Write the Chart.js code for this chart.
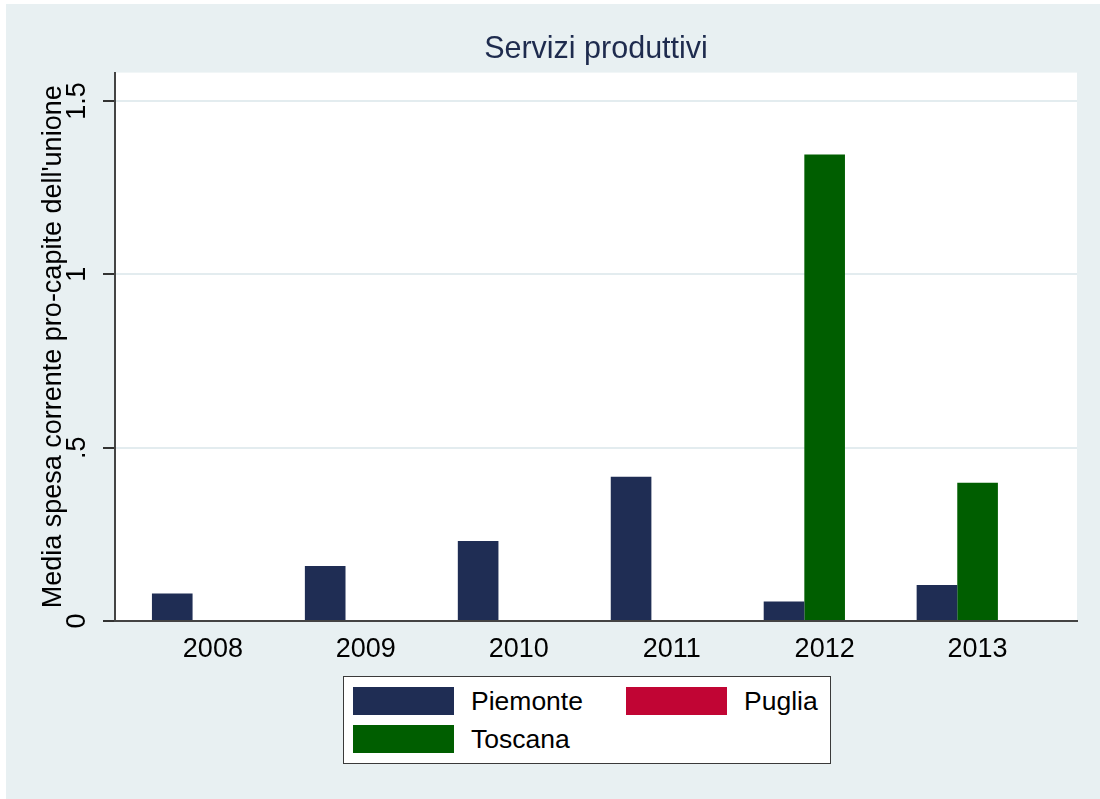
<!DOCTYPE html>
<html>
<head>
<meta charset="utf-8">
<script src="https://cdn.jsdelivr.net/npm/chart.js@4.4.1/dist/chart.umd.min.js"></script>
<style>
  html, body { margin: 0; padding: 0; background: #fff; }
  body { width: 1100px; height: 799px; position: relative; overflow: hidden; font-family: "Liberation Sans", Arial, sans-serif; }
  #frame { position: absolute; left: 6px; top: 4px; width: 1094px; height: 795px; background: #e8f0f2; }
  #chart { position: absolute; left: 0; top: 0; }
  #legend { position: absolute; left: 337px; top: 672px; width: 488px; height: 88px; box-sizing: border-box;
            background: #fff; border: 1.5px solid #3a3a3a; }
  .item { position: absolute; display: flex; align-items: center; font-size: 26.5px; color: #000; height: 28px; }
  .sw { width: 101px; height: 28px; margin-right: 17px; }
</style>
</head>
<body>
<div id="frame">
  <canvas id="chart" width="1094" height="795"></canvas>
  <div id="legend"></div>
</div>
<script>
const FONT = '"Liberation Sans", Arial, sans-serif';

const years = [2008, 2009, 2010, 2011, 2012, 2013];
const piemonte = [0.079, 0.159, 0.231, 0.416, 0.056, 0.104];
const puglia = [null, null, null, null, null, null];
const toscana = [null, null, null, null, 1.346, 0.399];
const yTicks = [0, 0.5, 1, 1.5];
const yTickLabels = ['0', '.5', '1', '1.5'];

const COLORS = { Piemonte: '#1f2d54', Puglia: '#c10534', Toscana: '#005e00' };
const legendOrder = ['Piemonte', 'Puglia', 'Toscana'];
const legendPos = { Piemonte: [9, 10], Puglia: [282, 10], Toscana: [9, 48] };

const toPoints = (vals) => years.map((yr, i) => ({ x: yr, y: vals[i] }));

// slot order in each group: Piemonte, Toscana, then the empty Puglia slot
const datasets = [
  { label: 'Piemonte', data: toPoints(piemonte), backgroundColor: COLORS.Piemonte },
  { label: 'Toscana', data: toPoints(toscana), backgroundColor: COLORS.Toscana },
  { label: 'Puglia', data: toPoints(puglia), backgroundColor: COLORS.Puglia },
];

new Chart(document.getElementById('chart'), {
  type: 'bar',
  data: { datasets },
  options: {
    responsive: false,
    animation: false,
    devicePixelRatio: 1,
    categoryPercentage: 0.797,
    barPercentage: 1,
    layout: { padding: { left: 0, right: 23, top: 0, bottom: 0 } },
    plugins: {
      legend: { display: false },
      tooltip: { enabled: false },
      title: {
        display: true,
        fullSize: false,
        text: 'Servizi produttivi',
        color: '#1e2b4e',
        font: { family: FONT, size: 30.5, weight: 'normal', lineHeight: 1.2 },
        padding: { top: 27, bottom: 5 },
      },
    },
    scales: {
      x: {
        type: 'linear',
        offset: false,
        min: 2007.36,
        max: 2013.65,
        afterBuildTicks: (s) => { s.ticks = years.map(v => ({ value: v })); },
        afterFit: (s) => { s.height = 178; },
        grid: { display: false, drawTicks: false, tickLength: 0, offset: false },
        border: { display: true, color: '#444', width: 2 },
        ticks: {
          color: '#000',
          font: { family: FONT, size: 27 },
          padding: 12,
          maxRotation: 0,
          callback: (v) => String(v),
        },
      },
      y: {
        min: 0,
        max: 1.582,
        afterBuildTicks: (s) => { s.ticks = yTicks.map(v => ({ value: v })); },
        afterFit: (s) => { s.width = 109; },
        grid: {
          color: (c) => c.tick && c.tick.value === 0 ? 'rgba(0,0,0,0)' : '#e3ecef',
          lineWidth: 2,
          tickColor: '#333',
          tickLength: 12,
          drawTicks: true,
        },
        border: { display: true, color: '#444', width: 2 },
        ticks: {
          color: '#000',
          font: { family: FONT, size: 27 },
          minRotation: 90,
          maxRotation: 90,
          crossAlign: 'center',
          padding: 7,
          callback: (v) => yTickLabels[yTicks.indexOf(v)],
        },
        title: {
          display: true,
          text: "Media spesa corrente pro-capite dell'unione",
          color: '#000',
          font: { family: FONT, size: 27, lineHeight: 1.2 },
          padding: { top: 31, bottom: 0 },
        },
      },
    },
  },
  plugins: [{
    id: 'plotBg',
    beforeDraw(chart) {
      const { ctx, chartArea: a } = chart;
      ctx.save();
      ctx.fillStyle = '#ffffff';
      ctx.fillRect(a.left, a.top, a.right - a.left, a.bottom - a.top);
      ctx.restore();
    },
  }],
});

const legend = document.getElementById('legend');
legendOrder.forEach(name => {
  const item = document.createElement('div');
  item.className = 'item';
  item.style.left = legendPos[name][0] + 'px';
  item.style.top = legendPos[name][1] + 'px';
  const sw = document.createElement('span');
  sw.className = 'sw';
  sw.style.background = COLORS[name];
  const txt = document.createElement('span');
  txt.textContent = name;
  item.appendChild(sw);
  item.appendChild(txt);
  legend.appendChild(item);
});
</script>
</body>
</html>
